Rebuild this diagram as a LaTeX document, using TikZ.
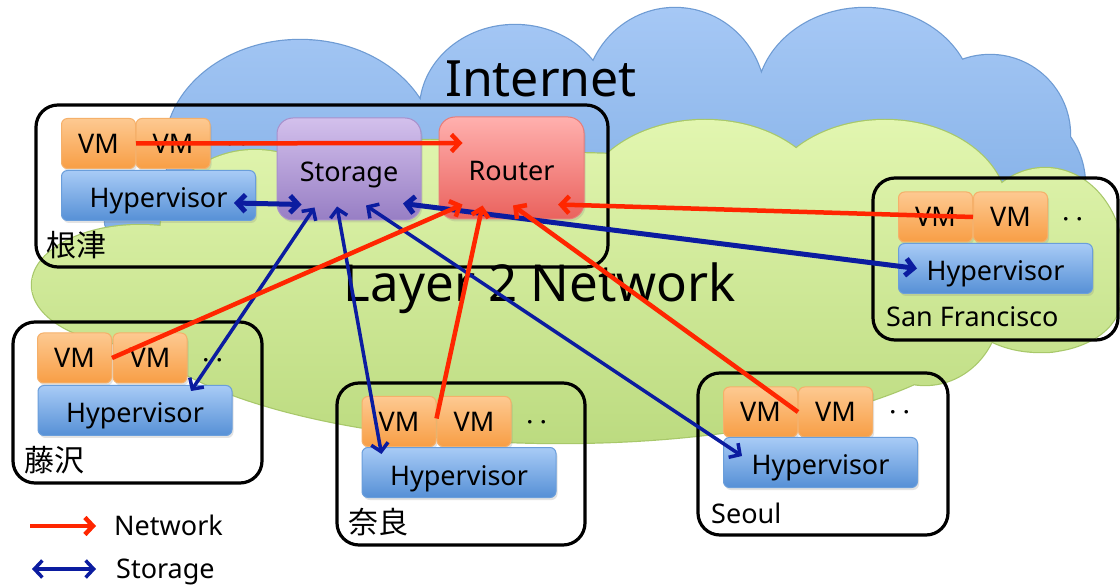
\documentclass[tikz,border=0pt]{standalone}
\usepackage{fontspec}
\setmainfont{Noto Sans}
\newfontfamily\jpfont{Noto Sans CJK JP}
\usetikzlibrary{arrows.meta,shadows,calc}

\definecolor{netred}{HTML}{FF2600}
\definecolor{stoblue}{HTML}{0B1CA0}
\definecolor{vmtop}{HTML}{FDC991}
\definecolor{vmbot}{HTML}{F89E45}
\definecolor{vmedge}{HTML}{F5B06A}
\definecolor{hytop}{HTML}{A8CBF6}
\definecolor{hybot}{HTML}{5690D6}
\definecolor{hyedge}{HTML}{6A9EDB}
\definecolor{sttop}{HTML}{D3C0EC}
\definecolor{stbot}{HTML}{977EC4}
\definecolor{stedge}{HTML}{A890CC}
\definecolor{rttop}{HTML}{FFB0AE}
\definecolor{rtbot}{HTML}{EA625D}
\definecolor{rtedge}{HTML}{E87C78}
\definecolor{inettop}{HTML}{A6C8F5}
\definecolor{inetbot}{HTML}{7CABE4}
\definecolor{inetedge}{HTML}{6E9BD3}
\definecolor{ltop}{HTML}{E2F6B0}
\definecolor{lbot}{HTML}{BCDB80}
\definecolor{ledge}{HTML}{A8C86A}

\newcommand\txtsz{\fontsize{27pt}{32pt}\selectfont}
% outlines of the two clouds as unions of ellipses
\newcommand\inetshape{
  (300,150) ellipse [x radius=135pt, y radius=110pt]
  (515,110) ellipse [x radius=95pt, y radius=85pt]
  (675,100) ellipse [x radius=90pt, y radius=92pt]
  (865,100) ellipse [x radius=108pt, y radius=92pt]
  (990,135) ellipse [x radius=80pt, y radius=80pt]
  (1020,185) ellipse [x radius=65pt, y radius=75pt]
  (620,190) ellipse [x radius=430pt, y radius=80pt]
  (190,222) ellipse [x radius=85pt, y radius=30pt]}
\newcommand\ltwoshape{
  (705,210) ellipse [x radius=125pt, y radius=90pt]
  (885,210) ellipse [x radius=122pt, y radius=90pt]
  (1045,260) ellipse [x radius=78pt, y radius=92pt]
  (140,285) ellipse [x radius=108pt, y radius=60pt]
  (255,235) ellipse [x radius=95pt, y radius=85pt]
  (560,298) ellipse [x radius=440pt, y radius=145pt]
  (925,305) ellipse [x radius=75pt, y radius=80pt]
  (1040,300) ellipse [x radius=80pt, y radius=52pt]
  (430,200) ellipse [x radius=170pt, y radius=60pt]}

\begin{document}
\begin{tikzpicture}[x=1pt,y=-1pt,
  boxbase/.style={rounded corners=6pt, inner sep=0pt, text depth=0pt, font=\txtsz,
    line width=1pt, drop shadow={opacity=0.22,shadow xshift=1.5pt,shadow yshift=-2.5pt}},
  vmbox/.style={boxbase, minimum width=74pt, minimum height=50pt,
    top color=vmtop, bottom color=vmbot, draw=vmedge},
  hypbox/.style={boxbase, minimum width=194pt, minimum height=50pt, text height=25pt,
    top color=hytop, bottom color=hybot, draw=hyedge},
  stobox/.style={boxbase, minimum width=144pt, minimum height=102pt, rounded corners=16pt,
    text height=25pt, top color=sttop, bottom color=stbot, draw=stedge},
  rtbox/.style={boxbase, minimum width=145pt, minimum height=102pt, rounded corners=16pt,
    text height=25pt, top color=rttop, bottom color=rtbot, draw=rtedge},
  sitebox/.style={draw=black, line width=3.2pt, rounded corners=22pt, inner sep=0pt},
  jplabel/.style={font=\jpfont\fontsize{30pt}{34pt}\selectfont, inner sep=0pt, anchor=west},
  sitelabel/.style={font=\txtsz, inner sep=0pt, anchor=base west},
  dotlabel/.style={font=\jpfont\txtsz, inner sep=0pt, yshift=-6pt},
  netarrow/.style={draw=netred, line width=4.5pt, -{Straight Barb[length=8pt,width=17pt]}},
  stoarrow/.style={draw=stoblue, line width=3.5pt,
    {Straight Barb[length=8pt,width=17pt]}-{Straight Barb[length=8pt,width=17pt]}},
]

\fill[white] (0,0) rectangle (1120,585);
\useasboundingbox (0,0) rectangle (1120,585);

% Internet cloud
\draw[inetedge, line width=2.4pt] \inetshape;
\shade[top color=inettop, bottom color=inetbot] \inetshape;

% Layer 2 cloud
\draw[ledge, line width=2.4pt] \ltwoshape;
\shade[top color=ltop, bottom color=lbot] \ltwoshape;

% network titles
\node[font=\fontsize{50pt}{60pt}\selectfont, anchor=base, inner sep=0pt] (inet) at (541,97) {Internet};
\node[font=\fontsize{51pt}{60pt}\selectfont, anchor=base, inner sep=0pt] (ltwo) at (540,302) {Layer 2 Network};

% site frames
\node[sitebox, minimum width=572pt, minimum height=162pt] (nz) at (322,186) {};
\node[sitebox, minimum width=249pt, minimum height=161pt] (fj) at (137.5,402.5) {};
\node[sitebox, minimum width=248pt, minimum height=162pt] (nr) at (461,464) {};
\node[sitebox, minimum width=250pt, minimum height=162pt] (so) at (823,454) {};
\node[sitebox, minimum width=245pt, minimum height=162pt] (sf) at (995.5,259) {};

% Nezu
\node[vmbox] (nzv1) at (98.5,143.5) {VM};
\node[vmbox] (nzv2) at (173,143.5) {VM};
\node[hypbox] (nzh) at (158.5,195.5) {Hypervisor};
\node[stobox] (st) at (349,169) {Storage};
\node[rtbox] (rt) at (511.5,168) {Router};
\node[dotlabel] (nzd) at (237,142) {‥};
\node[jplabel] (nzl) at (46,245) {根津};

% Fujisawa
\node[vmbox] (fjv1) at (74.5,358) {VM};
\node[vmbox] (fjv2) at (150,358) {VM};
\node[hypbox] (fjh) at (135,410.5) {Hypervisor};
\node[dotlabel] (fjd) at (213,358) {‥};
\node[jplabel] (fjl) at (24,460) {藤沢};

% Nara
\node[vmbox] (nrv1) at (399,421.5) {VM};
\node[vmbox] (nrv2) at (474,421.5) {VM};
\node[hypbox] (nrh) at (459,472.5) {Hypervisor};
\node[dotlabel] (nrd) at (537,420) {‥};
\node[jplabel] (nrl) at (348,522) {奈良};

% Seoul
\node[vmbox] (sov1) at (760.5,412) {VM};
\node[vmbox] (sov2) at (835.5,412) {VM};
\node[hypbox] (soh) at (820.5,462.5) {Hypervisor};
\node[dotlabel] (sod) at (900,410) {‥};
\node[sitelabel] (sol) at (711,523) {Seoul};

% San Francisco
\node[vmbox] (sfv1) at (935.5,217) {VM};
\node[vmbox] (sfv2) at (1010.5,217) {VM};
\node[hypbox] (sfh) at (995.5,268.5) {Hypervisor};
\node[dotlabel] (sfd) at (1073,217) {‥};
\node[sitelabel] (sfl) at (886,327) {San Francisco};

% storage links
\draw[stoarrow, line width=5pt] ($(nzh.east)+(-22,7.5)$) -- ($(st.south west)+(25,-16)$);
\draw[stoarrow] ($(st.south west)+(38,-13)$) -- ($(fjh.north)+(56,6)$);
\draw[stoarrow] ($(st.south)+(-12,-14)$) -- ($(nrh.north west)+(20,7)$);
\draw[stoarrow] ($(st.south)+(17,-15)$) -- ($(soh.north west)+(19,19)$);
\draw[stoarrow, line width=5pt] ($(st.south)+(54,-17)$) -- ($(sfh.west)+(19,0)$);

% network links
\draw[netarrow] (nzv1.east) -- ($(rt.west)+(24,-25)$);
\draw[netarrow] (fjv1.east) -- ($(rt.south)+(-49,-15)$);
\draw[netarrow] ($(nrv1.east)+(0,-3)$) -- ($(rt.south)+(-29,-14)$);
\draw[netarrow] (sov1.east) -- ($(rt.south)+(1.5,-14)$);
\draw[netarrow] (sfv1.east) -- ($(rt.south)+(46.5,-15)$);

% legend
\coordinate (lgna) at (30,526);
\coordinate (lgnb) at (96,526);
\coordinate (lgsa) at (32,569);
\coordinate (lgsb) at (96,569);
\draw[netarrow] (lgna) -- (lgnb);
\draw[stoarrow] (lgsa) -- (lgsb);
\node[sitelabel] (lgn) at (114,535) {Network};
\node[sitelabel] (lgs) at (116,578) {Storage};

\end{tikzpicture}
\end{document}
